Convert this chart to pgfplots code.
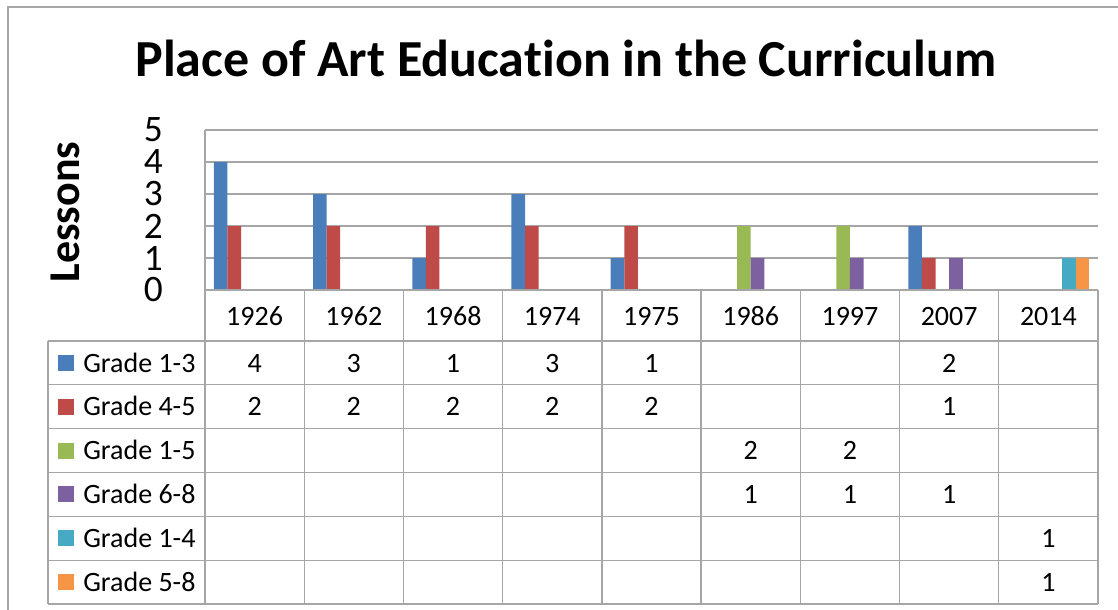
\documentclass[border=0pt]{standalone}
\usepackage{fontspec}
\setmainfont{Carlito}[Ligatures=NoCommon]
\usepackage{pgfplots}
\pgfplotsset{compat=1.18}
\definecolor{c1}{HTML}{4A7EBB}
\definecolor{c2}{HTML}{BE4B48}
\definecolor{c3}{HTML}{98B954}
\definecolor{c4}{HTML}{7D60A0}
\definecolor{c5}{HTML}{46AAC5}
\definecolor{c6}{HTML}{F69546}
\definecolor{gridc}{HTML}{A6A6A6}
\definecolor{framec}{HTML}{A6A6A6}
\begin{document}
\begin{tikzpicture}[x=0.75pt,y=-0.75pt]
\path[use as bounding box] (0,0) rectangle (1118,610);
\draw[framec, line width=1pt] (8,610) -- (8,7) -- (1118,7);
\node[font=\bfseries\fontsize{39}{39}\selectfont, anchor=base] at (566,77) {Place of Art Education in the Curriculum};
\node[font=\bfseries\fontsize{33}{33}\selectfont, rotate=90] at (65,212) {Lessons};
\coordinate (A) at (205,290);
\begin{axis}[at={(A)}, anchor=south west, scale only axis,
  width=669.75pt, height=120pt,
  xmin=-0.5, xmax=8.5, ymin=0, ymax=5,
  ybar, bar width=0.137,
  axis line style={draw=none},
  major tick length=0pt,
  xtick=\empty,
  ytick={0,1,2,3,4,5},
  ymajorgrids,
  grid style={gridc, line width=1pt},
  /pgf/number format/assume math mode=true,
  yticklabel style={font=\fontsize{28}{28}\selectfont, anchor=east, inner sep=0pt, xshift=-31.5pt},
  clip=false,
]
\addplot[fill=c1, draw=none, bar shift=-0.3425] coordinates {(0,4) (1,3) (2,1) (3,3) (4,1) (7,2)};
\addplot[fill=c2, draw=none, bar shift=-0.2055] coordinates {(0,2) (1,2) (2,2) (3,2) (4,2) (7,1)};
\addplot[fill=c3, draw=none, bar shift=-0.0685] coordinates {(5,2) (6,2)};
\addplot[fill=c4, draw=none, bar shift=0.0685] coordinates {(5,1) (6,1) (7,1)};
\addplot[fill=c5, draw=none, bar shift=0.2055] coordinates {(8,1)};
\addplot[fill=c6, draw=none, bar shift=0.3425] coordinates {(8,1)};
\end{axis}
% axis line and data table
\draw[gridc, line width=1pt] (205,130) -- (205,290);
\draw[gridc, line width=1pt] (205,290) -- (1098,290);
\foreach \i in {0,...,9} \draw[gridc, line width=1pt] ({205+\i*99.222},290) -- ({205+\i*99.222},604);
\foreach \y in {341,384.83,428.67,472.5,516.33,560.17,604} \draw[gridc, line width=1pt] (48,\y) -- (1098,\y);
\draw[gridc, line width=1pt] (48,341) -- (48,604);
\foreach \yr [count=\i from 0] in {1926,1962,1968,1974,1975,1986,1997,2007,2014}
  \node[font=\fontsize{21}{21}\selectfont, anchor=base, inner sep=0pt] at ({254.6+\i*99.222},325) {\yr};
\foreach \lab/\col [count=\r from 0] in {Grade 1-3/c1,Grade 4-5/c2,Grade 1-5/c3,Grade 6-8/c4,Grade 1-4/c5,Grade 5-8/c6} {
  \fill[\col] (58,{363+\r*43.83-8}) rectangle (74,{363+\r*43.83+8});
  \node[font=\fontsize{21}{21}\selectfont, anchor=base west, inner sep=0pt] at (83,{372+\r*43.83}) {\lab};
}
% table values: row/column/value
\foreach \r/\c/\v in {0/0/4,0/1/3,0/2/1,0/3/3,0/4/1,0/7/2,
                      1/0/2,1/1/2,1/2/2,1/3/2,1/4/2,1/7/1,
                      2/5/2,2/6/2,
                      3/5/1,3/6/1,3/7/1,
                      4/8/1,
                      5/8/1}
  \node[font=\fontsize{21}{21}\selectfont, anchor=base, inner sep=0pt] at ({254.6+\c*99.222},{372+\r*43.83}) {\v};
\end{tikzpicture}
\end{document}
